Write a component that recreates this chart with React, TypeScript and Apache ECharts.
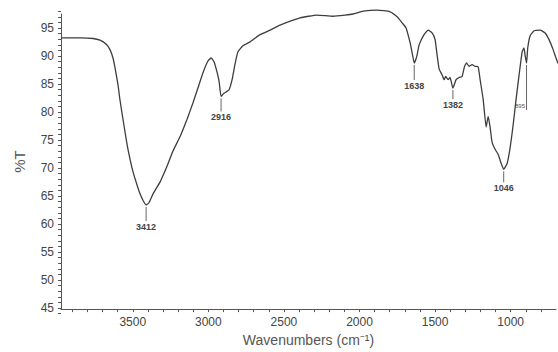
import React, { useEffect, useRef } from "react";
import * as echarts from "echarts";

// Spectrum (wavenumber in cm-1, %T)
const wavenumbers = [
  3975, 3849, 3763, 3717, 3677, 3651, 3631, 3618, 3598, 3585, 3565, 3538, 3518, 3498, 3472, 3452, 3432, 3412,
  3393, 3366, 3320, 3273, 3234, 3187, 3141, 3101, 3068, 3035, 3002, 2982, 2962, 2943, 2929, 2916, 2900, 2883,
  2863, 2843, 2823, 2804, 2771, 2724, 2658, 2592, 2526, 2393, 2281, 2175, 2096, 2043, 1976, 1884, 1798, 1751,
  1718, 1692, 1665, 1648, 1638, 1622, 1605, 1573, 1546, 1520, 1500, 1487, 1473, 1454, 1440, 1430, 1414, 1401,
  1382, 1361, 1341, 1321, 1305, 1292, 1275, 1255, 1235, 1215, 1202, 1182, 1162, 1149, 1136, 1123, 1103, 1083,
  1063, 1046, 1023, 1003, 983, 964, 944, 924, 912, 904, 895, 887, 871, 845, 805, 772, 746, 719, 700, 686,
];
const transmittance = [
  93.2, 93.2, 93.1, 92.8, 92.1, 91.1, 89.6, 87.9, 84.8, 82.1, 78.6, 74.1, 71.4, 69.1, 66.8, 65.2, 64.0, 63.2,
  63.6, 65.2, 67.3, 70.2, 72.9, 75.5, 78.6, 81.6, 84.3, 87.0, 89.1, 89.6, 88.9, 87.1, 85.4, 82.7, 83.2, 83.5,
  83.9, 85.7, 88.6, 90.7, 91.8, 92.5, 93.8, 94.6, 95.5, 96.8, 97.3, 97.1, 97.3, 97.5, 98.0, 98.2, 97.9, 97.0,
  95.9, 95.0, 92.3, 90.0, 88.7, 89.8, 92.0, 93.8, 94.6, 94.1, 92.9, 90.2, 87.6, 86.6, 85.7, 86.3, 85.7, 86.1,
  84.2, 85.7, 86.1, 86.3, 88.1, 88.7, 88.1, 88.4, 88.1, 88.0, 85.7, 82.2, 77.2, 79.1, 77.2, 74.5, 73.2, 72.3,
  70.7, 69.6, 70.7, 73.6, 77.7, 82.2, 86.6, 90.7, 91.4, 90.0, 88.7, 91.4, 93.6, 94.5, 94.6, 94.1, 92.9, 91.1, 89.6, 88.6,
];

const peakWaves = [3412, 2916, 1638, 1382, 1046, 895];
const peakLabels = ["3412", "2916", "1638", "1382", "1046", "895"];

const xTickLabels = [3500, 3000, 2500, 2000, 1500, 1000];
const yTickLabels = [45, 50, 55, 60, 65, 70, 75, 80, 85, 90, 95];

const INK = "#3d3d3d";
const AXIS = "#555555";
const FONT = "Liberation Sans";

export default function App() {
  const ref = useRef<HTMLDivElement>(null);

  useEffect(() => {
    if (!ref.current) return;
    const chart = echarts.init(ref.current, undefined, { renderer: "svg" });

    const spectrum = wavenumbers.map((w, i) => [w, transmittance[i]]);
    const peaks = peakWaves.map((w, i) => {
      const idx = wavenumbers.indexOf(w);
      return [w, transmittance[idx], i];
    });

    // annotation styling: [line length, label font size, label placement]
    const lineLens = [14, 13, 15, 9, 11, 45];

    chart.setOption({
      animation: false,
      backgroundColor: "#ffffff",
      grid: [
        { left: 61, right: 2, top: 14, bottom: 41 },
        { left: 61, right: 2, top: 11.2, bottom: 38.4 },
      ],
      xAxis: [
        {
          type: "value",
          gridIndex: 0,
          inverse: true,
          min: 700,
          max: 3975,
          interval: 100,
          name: "Wavenumbers (cm\u207B\u00B9)",
          nameLocation: "middle",
          nameGap: 19,
          nameTextStyle: { fontFamily: FONT, fontSize: 14, color: AXIS },
          axisLine: { show: true, onZero: false, lineStyle: { color: AXIS, width: 1 } },
          axisTick: { show: true, inside: false, length: 3, lineStyle: { color: AXIS } },
          axisLabel: {
            margin: 7,
            fontFamily: FONT,
            fontSize: 12,
            color: "#444",
            showMinLabel: false,
            showMaxLabel: false,
            formatter: (v: number) => (xTickLabels.includes(Math.round(v)) ? String(Math.round(v)) : ""),
          },
          splitLine: { show: false },
        },
        {
          type: "value",
          gridIndex: 1,
          inverse: true,
          min: 700,
          max: 3975,
          show: false,
        },
      ],
      yAxis: [
        {
          type: "value",
          gridIndex: 0,
          min: 44.5,
          max: 97.5,
          name: "%T",
          nameLocation: "middle",
          nameGap: 34,
          nameTextStyle: { fontFamily: FONT, fontSize: 15, color: AXIS },
          axisLine: { show: true, onZero: false, lineStyle: { color: AXIS, width: 1 } },
          axisTick: { show: false },
          axisLabel: { show: false },
          splitLine: { show: false },
        },
        {
          type: "value",
          gridIndex: 1,
          min: 44,
          max: 98,
          interval: 1,
          axisLine: { show: false },
          axisTick: { show: true, inside: false, length: 3, lineStyle: { color: AXIS } },
          axisLabel: {
            margin: 7,
            fontFamily: FONT,
            fontSize: 12,
            color: "#444",
            formatter: (v: number) => (yTickLabels.includes(Math.round(v)) && Math.abs(v - Math.round(v)) < 1e-6 ? String(Math.round(v)) : ""),
          },
          splitLine: { show: false },
        },
      ],
      series: [
        {
          type: "line",
          xAxisIndex: 0,
          yAxisIndex: 0,
          data: spectrum,
          showSymbol: false,
          symbol: "none",
          smooth: 0.15,
          clip: false,
          lineStyle: { color: INK, width: 1.3 },
        },
        {
          type: "custom",
          xAxisIndex: 0,
          yAxisIndex: 0,
          data: peaks,
          clip: false,
          renderItem: (params: any, api: any) => {
            const i = api.value(2);
            const p = api.coord([api.value(0), api.value(1)]);
            const len = lineLens[i];
            const y1 = p[1] + 2;
            const y2 = y1 + len;
            const small = peakLabels[i].length === 3;
            const children: any[] = [
              {
                type: "line",
                shape: { x1: p[0], y1, x2: p[0], y2 },
                style: { stroke: "#555", lineWidth: 0.9 },
              },
            ];
            if (small) {
              children.push({
                type: "text",
                style: {
                  text: peakLabels[i],
                  x: p[0] - 1.5,
                  y: y2 - 4,
                  align: "right",
                  verticalAlign: "middle",
                  font: `6px "${FONT}"`,
                  fill: "#555",
                },
              });
            } else {
              children.push({
                type: "text",
                style: {
                  text: peakLabels[i],
                  x: p[0],
                  y: y2 + 1.5,
                  align: "center",
                  verticalAlign: "top",
                  font: `bold 9px "${FONT}"`,
                  fill: "#444",
                },
              });
            }
            return { type: "group", children };
          },
        },
      ],
    });

    return () => chart.dispose();
  }, []);

  return (
    <div
      ref={ref}
      style={{ position: "fixed", left: 0, top: 0, width: 558, height: 352, background: "#fff" }}
    />
  );
}
